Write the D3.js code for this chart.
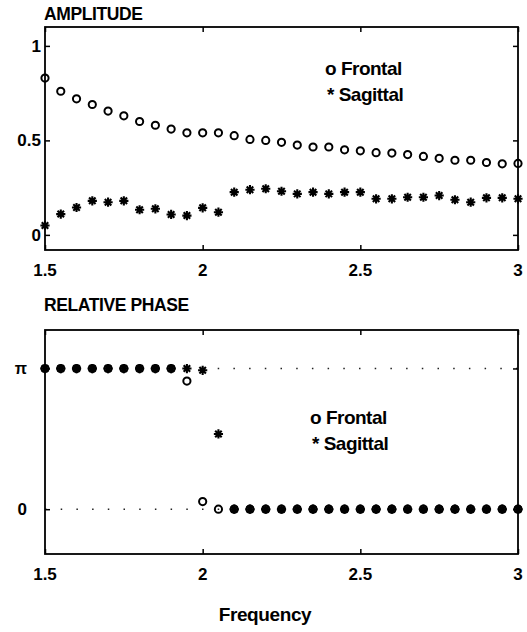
<!DOCTYPE html>
<html>
<head>
<meta charset="utf-8">
<script src="https://cdn.jsdelivr.net/npm/d3@7/dist/d3.min.js"></script>
<style>
  html, body { margin: 0; padding: 0; background: #fff; }
  svg { display: block; }
  text { font-family: "Liberation Sans", Arial, Helvetica, sans-serif; fill: #000; }
</style>
</head>
<body>
<svg id="chart" width="527" height="632"></svg>
<script>
// Stimulus frequencies (Hz)
const frequency = [1.5, 1.55, 1.6, 1.65, 1.7, 1.75, 1.8, 1.85, 1.9, 1.95, 2.0,
  2.05, 2.1, 2.15, 2.2, 2.25, 2.3, 2.35, 2.4, 2.45, 2.5, 2.55, 2.6, 2.65, 2.7,
  2.75, 2.8, 2.85, 2.9, 2.95, 3.0];

// Amplitude of the frontal and sagittal components
const frontalAmplitude = [0.83, 0.76, 0.72, 0.69, 0.655, 0.63, 0.60, 0.58, 0.56, 0.54,
  0.54, 0.54, 0.525, 0.505, 0.50, 0.49, 0.475, 0.465, 0.465, 0.45, 0.445, 0.435,
  0.433, 0.425, 0.415, 0.405, 0.395, 0.395, 0.383, 0.376, 0.378];
const sagittalAmplitude = [0.05, 0.11, 0.145, 0.18, 0.173, 0.18, 0.133, 0.138, 0.108,
  0.102, 0.143, 0.12, 0.226, 0.239, 0.244, 0.231, 0.217, 0.226, 0.217, 0.226, 0.226,
  0.191, 0.191, 0.199, 0.199, 0.208, 0.186, 0.173, 0.196, 0.196, 0.191];

// Relative phase (radians)
const frontalPhase = [3.14, 3.14, 3.14, 3.14, 3.14, 3.14, 3.14, 3.14, 3.14, 2.86,
  0.17, 0, 0, 0, 0, 0, 0, 0, 0, 0, 0, 0, 0, 0, 0, 0, 0, 0, 0, 0, 0];
const sagittalPhase = [3.14, 3.14, 3.14, 3.14, 3.14, 3.14, 3.14, 3.14, 3.14, 3.14,
  3.1, 1.68, 0, 0, 0, 0, 0, 0, 0, 0, 0, 0, 0, 0, 0, 0, 0, 0, 0, 0, 0];

// Axis ticks and labels
const xTicks = [1.5, 2, 2.5, 3];
const xTickLabels = ["1.5", "2", "2.5", "3"];
const ampTicks = [0, 0.5, 1];
const ampTickLabels = ["0", "0.5", "1"];
const phaseTicks = [0, Math.PI];
const phaseTickLabels = ["0", "\u03C0"];
const legendLabels = ["o Frontal", "* Sagittal"];

const svg = d3.select("#chart");
const left = 45, right = 518;

const x = d3.scaleLinear().domain([1.5, 3]).range([left, right]);

function starPath(s) {
  const a = s * 0.7071;
  return `M${-s},0L${s},0M0,${-s}L0,${s}M${-a},${-a}L${a},${a}M${-a},${a}L${a},${-a}`;
}

function panel(opts) {
  const y = d3.scaleLinear().domain(opts.domain).range([opts.bottom, opts.top]);
  const g = svg.append("g");

  // title
  g.append("text").attr("x", left - 1).attr("y", opts.titleY)
    .attr("font-size", 17.5).attr("font-weight", "bold")
    .attr("letter-spacing", -0.4)
    .text(opts.title);

  // reference lines
  (opts.refLines || []).forEach(v => {
    g.append("line").attr("x1", left).attr("x2", right)
      .attr("y1", y(v)).attr("y2", y(v))
      .attr("stroke", "#222").attr("stroke-width", 1.5)
      .attr("stroke-dasharray", "1.5,14.2");
  });

  // inward ticks on all four sides
  const tl = 5;
  g.append("g").attr("transform", `translate(0,${opts.bottom})`)
    .call(d3.axisBottom(x).tickValues(xTicks).tickSize(-tl).tickFormat(""))
    .call(s => s.select(".domain").remove());
  g.append("g").attr("transform", `translate(0,${opts.top})`)
    .call(d3.axisTop(x).tickValues(xTicks).tickSize(-tl).tickFormat(""))
    .call(s => s.select(".domain").remove());
  g.append("g").attr("transform", `translate(${left},0)`)
    .call(d3.axisLeft(y).tickValues(opts.yTicks).tickSize(-tl).tickFormat(""))
    .call(s => s.select(".domain").remove());
  g.append("g").attr("transform", `translate(${right},0)`)
    .call(d3.axisRight(y).tickValues(opts.yTicks).tickSize(-tl).tickFormat(""))
    .call(s => s.select(".domain").remove());
  g.selectAll(".tick line").attr("stroke", "#000").attr("stroke-width", 1.5);

  // frame
  g.append("rect").attr("x", left).attr("y", opts.top)
    .attr("width", right - left).attr("height", opts.bottom - opts.top)
    .attr("fill", "none").attr("stroke", "#000").attr("stroke-width", 1.8);

  // tick labels
  g.selectAll(".xl").data(xTicks).join("text")
    .attr("x", d => x(d)).attr("y", opts.bottom + 26)
    .attr("text-anchor", "middle").attr("font-size", 17).attr("font-weight", "bold")
    .text((d, i) => xTickLabels[i]);
  g.selectAll(".yl").data(opts.yTicks).join("text")
    .attr("x", opts.yLabelX).attr("y", d => y(d) + 6)
    .attr("text-anchor", "end").attr("font-size", d => opts.yLabelSize(d)).attr("font-weight", "bold")
    .text((d, i) => opts.yTickLabels[i]);

  // frontal: open circles
  g.selectAll(".fr").data(frequency).join("circle")
    .attr("cx", d => x(d)).attr("cy", (d, i) => y(opts.frontal[i]))
    .attr("r", 3.6).attr("fill", "none").attr("stroke", "#000").attr("stroke-width", 2);

  // sagittal: asterisks
  g.selectAll(".sg").data(frequency).join("path")
    .attr("transform", (d, i) => `translate(${x(d)},${y(opts.sagittal[i])})`)
    .attr("d", starPath(4.6))
    .attr("fill", "none").attr("stroke", "#000").attr("stroke-width", 2.1);

  // legend text
  legendLabels.forEach((t, i) => {
    g.append("text").attr("x", opts.legendX + (i ? 2 : 0)).attr("y", opts.legendY + i * 26)
      .attr("font-size", 19).attr("font-weight", "bold").attr("letter-spacing", -0.5)
      .text(t);
  });
  return y;
}

panel({
  title: "AMPLITUDE", titleY: 20, top: 27, bottom: 250, domain: [-0.08, 1.1],
  yTicks: ampTicks, yTickLabels: ampTickLabels, yLabelX: 41, yLabelSize: () => 17,
  frontal: frontalAmplitude, sagittal: sagittalAmplitude,
  legendX: 325, legendY: 75
});

panel({
  title: "RELATIVE PHASE", titleY: 311, top: 330, bottom: 554, domain: [-1, 4],
  yTicks: phaseTicks, yTickLabels: phaseTickLabels, yLabelX: 27, yLabelSize: d => d > 1 ? 16 : 17,
  frontal: frontalPhase, sagittal: sagittalPhase, refLines: [0, Math.PI],
  legendX: 310, legendY: 424
});

// shared x-axis label
svg.append("text").attr("x", 265).attr("y", 621)
  .attr("text-anchor", "middle").attr("font-size", 19).attr("font-weight", "bold")
  .attr("letter-spacing", -0.4)
  .text("Frequency");
</script>
</body>
</html>
